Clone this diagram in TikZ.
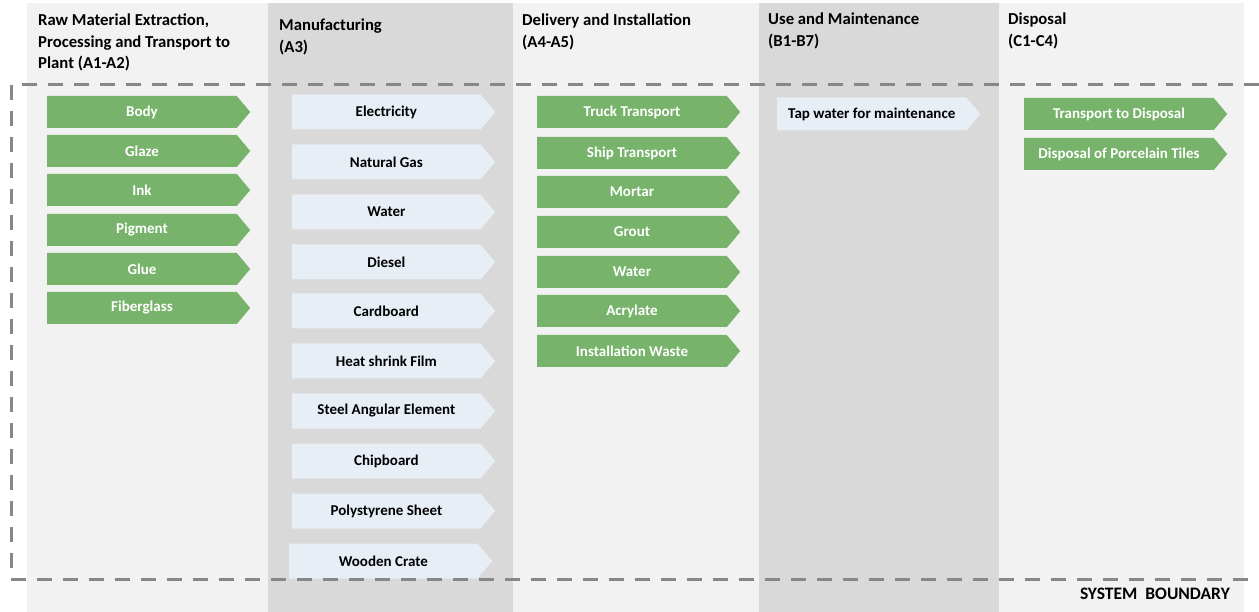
\documentclass[tikz,border=0pt]{standalone}
\usepackage{fontspec}
\setmainfont{Carlito}
\usetikzlibrary{shapes.symbols}

\definecolor{lightcol}{HTML}{F2F2F2}
\definecolor{darkcol}{HTML}{D9D9D9}
\definecolor{flowgreen}{HTML}{77B36A}
\definecolor{flowblue}{HTML}{E7EEF6}
\definecolor{boundgray}{HTML}{878787}

\tikzset{
  flow/.style={signal, signal to=east, signal pointer angle=100, anchor=west,
    minimum width=203pt, minimum height=32pt, inner sep=0pt,
    font=\bfseries\fontsize{15}{17}\selectfont},
  material/.style={flow, fill=flowgreen, text=white},
  energy/.style={flow, fill=flowblue, text=black, minimum height=35pt},
  header/.style={anchor=north west, align=left, inner sep=0pt,
    font=\bfseries\fontsize{16.7}{21.5}\selectfont},
  boundary/.style={boundgray, line width=3pt, dash pattern=on 15pt off 11pt}
}

\begin{document}
\begin{tikzpicture}[x=1pt,y=-1pt]
\useasboundingbox (0,0) rectangle (1259,612);

% stage columns
\fill[lightcol] (27,3) rectangle (268,612);
\fill[darkcol] (268,3) rectangle (513,612);
\fill[lightcol] (513,3) rectangle (759,612);
\fill[darkcol] (759,3) rectangle (999,612);
\fill[lightcol] (999,3) rectangle (1244,612);

\node[header] (rawmat) at (38,14) {Raw Material Extraction,\\Processing and Transport to\\Plant (A1-A2)};
\node[header] (manuf) at (279,19) {Manufacturing\\(A3)};
\node[header] (deliv) at (522,14) {Delivery and Installation\\(A4-A5)};
\node[header] (usemaint) at (768,13) {Use and Maintenance\\(B1-B7)};
\node[header] (dispos) at (1008,13) {Disposal\\(C1-C4)};

% A1-A2
\node[material] (body) at (47,112) {Body};
\node[material] (glaze) at (47,151) {Glaze};
\node[material] (ink) at (47,190) {Ink};
\node[material] (pigment) at (47,230) {Pigment};
\node[material] (glue) at (47,269) {Glue};
\node[material] (fiberglass) at (47,308) {Fiberglass};

% A3
\node[energy] (electricity) at (292,112) {Electricity};
\node[energy] (natgas) at (292,162) {Natural Gas};
\node[energy] (water) at (292,212) {Water};
\node[energy] (diesel) at (292,262) {Diesel};
\node[energy] (cardboard) at (292,311) {Cardboard};
\node[energy] (shrink) at (292,361) {Heat shrink Film};
\node[energy] (steel) at (292,411) {Steel Angular Element};
\node[energy] (chipboard) at (292,461) {Chipboard};
\node[energy] (polystyrene) at (292,511) {Polystyrene Sheet};
\node[energy] (crate) at (289,561) {Wooden Crate};

% A4-A5
\node[material] (truck) at (537,112) {Truck Transport};
\node[material] (ship) at (537,153) {Ship Transport};
\node[material] (mortar) at (537,192) {Mortar};
\node[material] (grout) at (537,232) {Grout};
\node[material] (instwater) at (537,272) {Water};
\node[material] (acrylate) at (537,311) {Acrylate};
\node[material] (waste) at (537,351) {Installation Waste};

% B1-B7
\node[energy, minimum height=33pt] (tapwater) at (777,114) {Tap water for maintenance};

% C1-C4
\node[material] (transdisp) at (1024,114) {Transport to Disposal};
\node[material] (tiles) at (1024,154) {Disposal of Porcelain Tiles};

% system boundary
\draw[boundary] (1259,85) -- (11,85) -- (11,579) -- (1259,579);
\node[anchor=east, inner sep=0pt, font=\bfseries\fontsize{17.5}{19}\selectfont] (sysbound) at (1230,594) {SYSTEM\hspace{4pt} BOUNDARY};
\end{tikzpicture}
\end{document}
